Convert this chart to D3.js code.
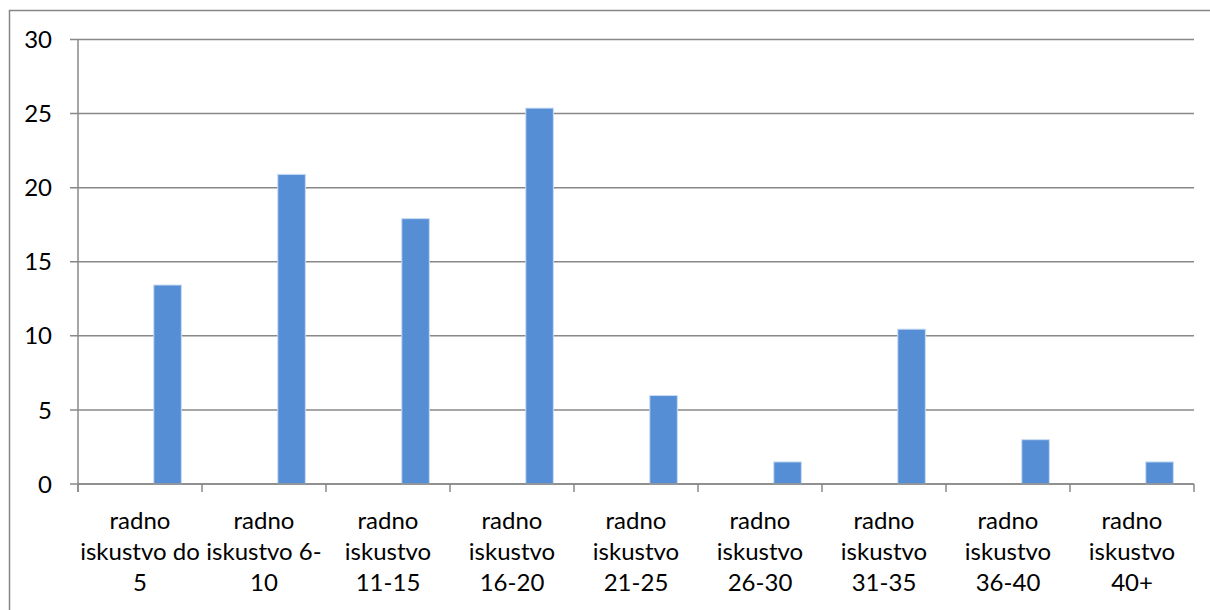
<!DOCTYPE html>
<html>
<head>
<meta charset="utf-8">
<script src="https://cdn.jsdelivr.net/npm/d3@7"></script>
<style>
  body { margin: 0; background: #fff; }
  svg text { font-family: Lato, "Open Sans", sans-serif; fill: #000; }
</style>
</head>
<body>
<div id="chart"></div>
<script>
const WIDTH = 1210
const HEIGHT = 610

// data (share of respondents, %)
const categories = [
  ['radno', 'iskustvo do', '5'],
  ['radno', 'iskustvo 6-', '10'],
  ['radno', 'iskustvo', '11-15'],
  ['radno', 'iskustvo', '16-20'],
  ['radno', 'iskustvo', '21-25'],
  ['radno', 'iskustvo', '26-30'],
  ['radno', 'iskustvo', '31-35'],
  ['radno', 'iskustvo', '36-40'],
  ['radno', 'iskustvo', '40+']
]
const values = [13.43, 20.9, 17.91, 25.37, 5.97, 1.49, 10.45, 2.99, 1.49]
const yTicks = [0, 5, 10, 15, 20, 25, 30]

const M = { top: 39.5, left: 78, right: 1194, bottom: 484 }
const FONT = '24px'

let svg = d3.select('#chart')
  .append('svg')
    .attr('width', WIDTH)
    .attr('height', HEIGHT)

// outer chart frame
svg.append('rect')
  .attr('x', 9.5)
  .attr('y', 10.5)
  .attr('width', 1300)
  .attr('height', 700)
  .attr('fill', 'none')
  .attr('stroke', '#868686')
  .attr('stroke-width', 1.5)

let x = d3.scaleBand()
  .domain(d3.range(categories.length))
  .range([M.left, M.right])

// excel-style cluster: 3 slots, gap 150%, bar sits in last slot
let slot = d3.scaleBand()
  .domain([0, 1, 2])
  .range([0, x.bandwidth()])
  .paddingInner(0)
  .paddingOuter(0.75)

let y = d3.scaleLinear()
  .domain([0, 30])
  .range([M.bottom, M.top])

// gridlines + y ticks
let grid = svg.append('g').attr('class', 'grid')
grid.selectAll('line')
  .data(yTicks)
  .enter().append('line')
    .attr('x1', M.left - 8)
    .attr('x2', M.right)
    .attr('y1', (d) => y(d))
    .attr('y2', (d) => y(d))
    .attr('stroke', '#888')
    .attr('stroke-width', 1.5)

grid.selectAll('text')
  .data(yTicks)
  .enter().append('text')
    .attr('x', 52)
    .attr('y', (d) => y(d))
    .attr('dy', '0.36em')
    .attr('text-anchor', 'end')
    .style('font-size', FONT)
    .text((d) => d)

// bars
svg.append('g')
  .selectAll('rect')
  .data(values)
  .enter().append('rect')
    .attr('x', (d, i) => x(i) + slot(2))
    .attr('y', (d) => y(d))
    .attr('width', slot.bandwidth())
    .attr('height', (d) => y(0) - y(d))
    .attr('fill', '#558ed5')
    .attr('stroke', '#c9dcf3')
    .attr('stroke-width', 1)

// axes lines
svg.append('line')
  .attr('x1', M.left).attr('x2', M.left)
  .attr('y1', M.top).attr('y2', M.bottom + 8)
  .attr('stroke', '#888').attr('stroke-width', 1.5)

svg.append('line')
  .attr('x1', M.left).attr('x2', M.right)
  .attr('y1', M.bottom).attr('y2', M.bottom)
  .attr('stroke', '#888').attr('stroke-width', 1.5)

let xt = d3.range(categories.length + 1).map((i) => M.left + i * x.step())
svg.append('g')
  .selectAll('line')
  .data(xt)
  .enter().append('line')
    .attr('x1', (d) => d).attr('x2', (d) => d)
    .attr('y1', M.bottom).attr('y2', M.bottom + 8)
    .attr('stroke', '#888').attr('stroke-width', 1.5)

// category labels
let labels = svg.append('g')
  .selectAll('text')
  .data(categories)
  .enter().append('text')
    .attr('text-anchor', 'middle')
    .style('font-size', FONT)
    .attr('transform', (d, i) => 'translate(' + (x(i) + x.bandwidth() / 2) + ',520)')

labels.selectAll('tspan')
  .data((d) => d)
  .enter().append('tspan')
    .attr('x', 0)
    .attr('y', (d, j) => j * 31)
    .attr('dy', '0.36em')
    .text((d) => d)
</script>
</body>
</html>
